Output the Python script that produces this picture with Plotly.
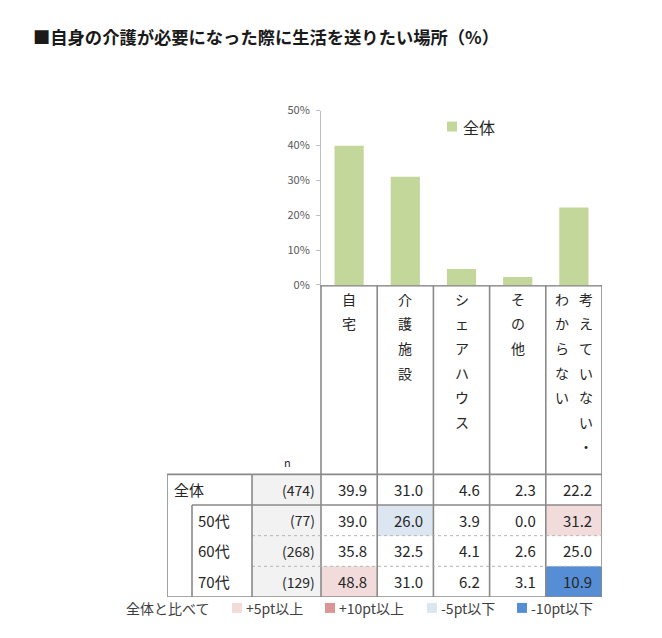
import plotly.graph_objects as go

# ---------------- data ----------------
title = "■自身の介護が必要になった際に生活を送りたい場所（%）"
categories = ["自宅", "介護施設", "シェアハウス", "その他", "考えていない・わからない"]
header_lines = [["自宅"], ["介護施設"], ["シェアハウス"], ["その他"], ["考えていない・", "わからない"]]
overall = [39.9, 31.0, 4.6, 2.3, 22.2]
series_name = "全体"
row_labels = ["全体", "50代", "60代", "70代"]
n_values = [474, 77, 268, 129]
table_values = [
    [39.9, 31.0, 4.6, 2.3, 22.2],
    [39.0, 26.0, 3.9, 0.0, 31.2],
    [35.8, 32.5, 4.1, 2.6, 25.0],
    [48.8, 31.0, 6.2, 3.1, 10.9],
]
ytick_vals = [0, 10, 20, 30, 40, 50]
ytick_text = ["0%", "10%", "20%", "30%", "40%", "50%"]
compare_label = "全体と比べて"
legend_labels = ["+5pt以上", "+10pt以上", "-5pt以下", "-10pt以下"]

# ---------------- style ----------------
OX, OY = 8, 8          # page body margin
W, H = 646, 622        # figure size so the page fits the window
SY, DY = 0.9775, 7.3   # vertical photo mapping of the viewer
FONT = "Noto Sans CJK JP"
BAR_COLOR = "#c4d79b"
LEG_COLORS = ["#f2dcdb", "#d99694", "#dce6f1", "#558ed5"]
NCOL_FILL = "#f2f2f2"
LINE = "#8a8a8a"
TXT = "#262626"

def px_x(p):
    return (p - OX) / W

def px_y(p):
    page = (p - DY) / SY
    return 1 - (page - OY) / H

# table geometry (column units / row units)
COLW = (602 - 321) / 5.0
ROWH = 30.75
X_LAB = -0.5 - (321 - 167) / COLW
X_SUB = -0.5 - (321 - 192) / COLW
X_N = -0.5 - (321 - 252) / COLW
X_R = len(categories) - 0.5
Y_HEAD = -(474 - 284) / ROWH
Y_B = len(row_labels)

def cell_color(diff):
    d = round(diff, 1)
    if d >= 10:
        return LEG_COLORS[1]
    if d >= 5:
        return LEG_COLORS[0]
    if d <= -10:
        return LEG_COLORS[3]
    if d <= -5:
        return LEG_COLORS[2]
    return None

fig = go.Figure()
fig.add_trace(go.Bar(
    x=list(range(len(categories))), y=overall, name=series_name,
    marker=dict(color=BAR_COLOR, line=dict(width=0)), width=0.52,
    xaxis="x", yaxis="y", showlegend=False, hoverinfo="skip",
))
fig.add_trace(go.Scatter(x=[X_LAB, X_R], y=[Y_HEAD, Y_B], mode="markers",
                         marker=dict(opacity=0), xaxis="x2", yaxis="y2",
                         showlegend=False, hoverinfo="skip"))

shapes = []
ann = []

def rect(x0, x1, y0, y1, fill):
    shapes.append(dict(type="rect", xref="x2", yref="y2", x0=x0, x1=x1, y0=y0, y1=y1,
                       fillcolor=fill, line=dict(width=0), layer="below"))

def line(x0, x1, y0, y1, color=LINE, width=1.6, dash="solid"):
    shapes.append(dict(type="line", xref="x2", yref="y2", x0=x0, x1=x1, y0=y0, y1=y1,
                       line=dict(color=color, width=width, dash=dash)))

rect(X_N, -0.5, 0, Y_B, NCOL_FILL)
for r, row in enumerate(table_values):
    if r == 0:
        continue
    for c, v in enumerate(row):
        col = cell_color(v - overall[c])
        if col:
            rect(c - 0.5, c + 0.5, r, r + 1, col)

for k in range(len(categories) + 1):
    line(k - 0.5, k - 0.5, Y_HEAD, Y_B)
line(-0.5, X_R, Y_HEAD, Y_HEAD)
line(X_LAB, X_R, 0, 0)
line(X_SUB, X_R, 1, 1)
line(X_LAB, X_R, Y_B, Y_B)
for r in range(2, len(row_labels)):
    line(X_N, X_R, r, r, color="#b5b5b5", width=1, dash="dot")
line(X_LAB, X_LAB, 0, Y_B)
line(X_SUB, X_SUB, 1, Y_B)
line(X_N, X_N, 0, Y_B)

CH_Y0 = -(474 - 298) / ROWH
CH_STEP = 24.6 / ROWH
for c, lines_ in enumerate(header_lines):
    nl = len(lines_)
    for j, txt in enumerate(lines_):
        off = 0 if nl == 1 else (0.21 if j == 0 else -0.21)
        for k, ch in enumerate(txt):
            ann.append(dict(xref="x2", yref="y2", x=c + off, y=CH_Y0 + k * CH_STEP,
                            text=ch, showarrow=False, xanchor="center", yanchor="middle",
                            font=dict(family=FONT, size=14, color=TXT)))

ann.append(dict(xref="x2", yref="y2", x=-0.5 - (321 - 287) / COLW, y=-12 / ROWH, text="n",
                showarrow=False, font=dict(family=FONT, size=11, color=TXT)))

for r, lab in enumerate(row_labels):
    lx = X_LAB + 5 / COLW if r == 0 else X_SUB + 4 / COLW
    ann.append(dict(xref="x2", yref="y2", x=lx, y=r + 0.5, text=lab, showarrow=False,
                    xanchor="left", yanchor="middle", font=dict(family=FONT, size=15, color=TXT)))
    ann.append(dict(xref="x2", yref="y2", x=-0.5 - 4 / COLW, y=r + 0.5, text=f"({n_values[r]})",
                    showarrow=False, xanchor="right", yanchor="middle",
                    font=dict(family=FONT, size=14, color=TXT)))
    for c, v in enumerate(table_values[r]):
        ann.append(dict(xref="x2", yref="y2", x=c + 0.5 - 8 / COLW, y=r + 0.5, text=f"{v:.1f}",
                        showarrow=False, xanchor="right", yanchor="middle",
                        font=dict(family=FONT, size=15, color=TXT)))

shapes.append(dict(type="rect", xref="paper", yref="paper", x0=px_x(447), x1=px_x(457),
                   y0=px_y(130), y1=px_y(120), fillcolor=BAR_COLOR, line=dict(width=0)))
ann.append(dict(xref="paper", yref="paper", x=px_x(461), y=px_y(125), text=series_name,
                showarrow=False, xanchor="left", yanchor="middle",
                font=dict(family=FONT, size=16, color=TXT)))

LY = 608
ann.append(dict(xref="paper", yref="paper", x=px_x(124), y=px_y(LY), text=compare_label,
                showarrow=False, xanchor="left", yanchor="middle",
                font=dict(family=FONT, size=14, color="#404040")))
leg_x = [232, 325, 427, 517]
for lx, lab, col in zip(leg_x, legend_labels, LEG_COLORS):
    shapes.append(dict(type="rect", xref="paper", yref="paper", x0=px_x(lx), x1=px_x(lx + 10),
                       y0=px_y(LY + 5), y1=px_y(LY - 5), fillcolor=col, line=dict(width=0)))
    ann.append(dict(xref="paper", yref="paper", x=px_x(lx + 12), y=px_y(LY), text=lab,
                    showarrow=False, xanchor="left", yanchor="middle",
                    font=dict(family=FONT, size=14, color="#404040")))

ann.append(dict(xref="paper", yref="paper", x=px_x(31), y=px_y(35), text=f"<b>{title}</b>",
                showarrow=False, xanchor="left", yanchor="middle",
                font=dict(family=FONT, size=17.3, color="#1a1a1a")))

fig.update_layout(
    width=W, height=H, margin=dict(l=0, r=0, t=0, b=0),
    paper_bgcolor="white", plot_bgcolor="rgba(0,0,0,0)",
    font=dict(family=FONT, color=TXT),
    shapes=shapes, annotations=ann, hovermode=False, showlegend=False,
    xaxis=dict(domain=[px_x(321), px_x(602)], range=[-0.5, 4.5], showticklabels=False,
               showgrid=False, zeroline=False, showline=True, linecolor="#bfbfbf", linewidth=1.5,
               ticks="", fixedrange=True),
    yaxis=dict(domain=[px_y(284), px_y(109)], range=[0, 50], tickvals=ytick_vals, ticktext=ytick_text,
               showgrid=False, zeroline=False, showline=True, linecolor="#bfbfbf", linewidth=1,
               ticks="outside", ticklen=4, tickcolor="#bfbfbf", ticklabelstandoff=4,
               tickfont=dict(family=FONT, size=11, color="#595959"), fixedrange=True),
    xaxis2=dict(domain=[px_x(167), px_x(602)], range=[X_LAB, X_R], visible=False, fixedrange=True),
    yaxis2=dict(domain=[px_y(597), px_y(284)], range=[Y_B, Y_HEAD], visible=False, fixedrange=True),
)

fig.write_html("out.html", config={"displayModeBar": False})
